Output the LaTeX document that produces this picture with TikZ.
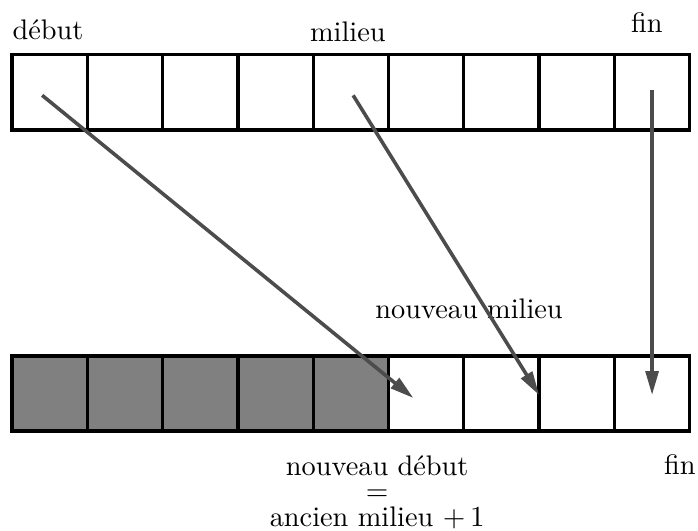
\documentclass[tikz,border=0pt]{standalone}
\usepackage{tikz}
\usetikzlibrary{positioning}
\usetikzlibrary{calc}
\usetikzlibrary{arrows.meta}
\tikzset{
	cell/.style={rectangle, draw=black, line width=1.25pt, minimum size=1cm, inner sep=0pt, outer sep=0pt},
	used/.style={cell, fill=black!50},
	tag/.style={inner sep=0pt, anchor=base, font=\fontsize{10.7pt}{9.6pt}\selectfont},
	move/.style={-{Triangle[length=9pt,width=4.8pt]}, draw=black!70, fill=black!70, line width=1.35pt}
}

\begin{document}
\begin{tikzpicture}
	\useasboundingbox (-0.16,-5.325) rectangle (9.11,1.726);
	% old array
	\foreach \i in {0,...,8}
		\node[cell] (t\i) at (\i+0.5, 0.5) {};
	% new array
	\foreach \i in {0,...,4}
		\node[used] (b\i) at (\i+0.5, -3.5) {};
	\foreach \i in {5,...,8}
		\node[cell] (b\i) at (\i+0.5, -3.5) {};

	% labels
	\node[tag, anchor=base west] (debut) at (0, 1.195) {début};
	\node[tag] (milieu) at (4.46, 1.17) {milieu};
	\node[tag] (fin) at (8.43, 1.29) {fin};
	\node[tag] (nmilieu) at (6.07, -2.5) {nouveau milieu};
	\node[tag, anchor=north, align=center] (ndebut) at (4.85, -4.32) {nouveau début\\$=$\\ancien milieu $+\,1$};
	\node[tag] (nfin) at (8.87, -4.58) {fin};

	% moves
	\coordinate (s0) at ($(t0.center)+(-0.1,-0.04)$);
	\coordinate (e0) at ($(b5.center)+(-0.17,-0.06)$);
	\coordinate (s1) at ($(t4.center)+(0.03,-0.04)$);
	\coordinate (e1) at ($(b6.east)+(0,-0.02)$);
	\coordinate (s2) at ($(t8.center)+(0,0.03)$);
	\coordinate (e2) at ($(b8.center)+(0,-0.02)$);
	\draw[move] (s0) -- (e0);
	\draw[move] (s1) -- (e1);
	\draw[move] (s2) -- (e2);
\end{tikzpicture}
\end{document}
